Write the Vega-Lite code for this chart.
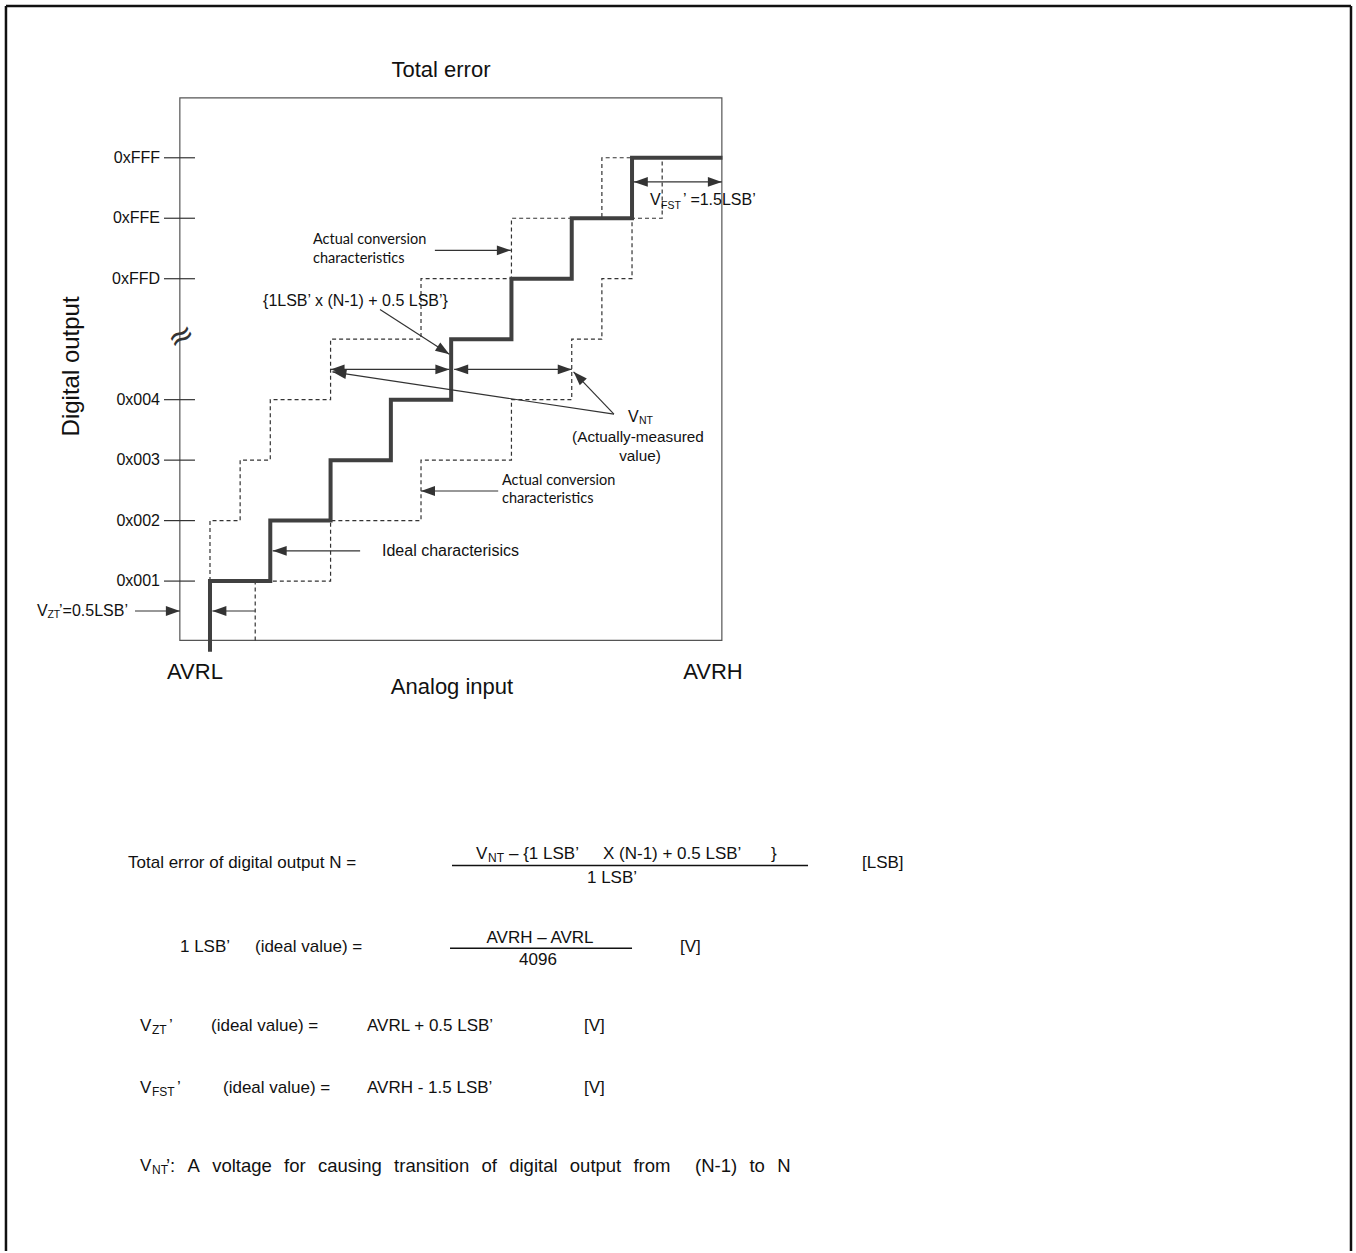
{
  "$schema": "https://vega.github.io/schema/vega-lite/v6.json",
  "width": 1356,
  "height": 1253,
  "autosize": {"type": "fit", "contains": "padding"},
  "padding": 0,
  "background": "white",
  "config": {"view": {"stroke": null}, "text": {"font": "Liberation Sans", "color": "#111"}},
  "encoding": {
    "x": {"field": "x", "type": "quantitative", "scale": {"domain": [-3.483, 19.008], "nice": false, "zero": false}, "axis": null},
    "y": {"field": "y", "type": "quantitative", "scale": {"domain": [-10.078, 10.609], "nice": false, "zero": false}, "axis": null}
  },
  "datasets": {
    "box": [{"x": -0.5, "y": 0.018, "x2": 8.49, "y2": 8.991}],
    "ideal": [
      {"i": 0, "x": 0, "y": -0.17}, {"i": 1, "x": 0, "y": 1}, {"i": 2, "x": 1, "y": 1}, {"i": 3, "x": 1, "y": 2},
      {"i": 4, "x": 2, "y": 2}, {"i": 5, "x": 2, "y": 3}, {"i": 6, "x": 3, "y": 3}, {"i": 7, "x": 3, "y": 4},
      {"i": 8, "x": 4, "y": 4}, {"i": 9, "x": 4, "y": 5}, {"i": 10, "x": 5, "y": 5}, {"i": 11, "x": 5, "y": 6},
      {"i": 12, "x": 6, "y": 6}, {"i": 13, "x": 6, "y": 7}, {"i": 14, "x": 7, "y": 7}, {"i": 15, "x": 7, "y": 8},
      {"i": 16, "x": 8.5, "y": 8}
    ],
    "upper": [
      {"i": 0, "x": 0, "y": 1}, {"i": 1, "x": 0, "y": 2}, {"i": 2, "x": 0.5, "y": 2}, {"i": 3, "x": 0.5, "y": 3},
      {"i": 4, "x": 1, "y": 3}, {"i": 5, "x": 1, "y": 4}, {"i": 6, "x": 2, "y": 4}, {"i": 7, "x": 2, "y": 5},
      {"i": 8, "x": 3.5, "y": 5}, {"i": 9, "x": 3.5, "y": 6}, {"i": 10, "x": 5, "y": 6}, {"i": 11, "x": 5, "y": 7},
      {"i": 12, "x": 6.5, "y": 7}, {"i": 13, "x": 6.5, "y": 8}, {"i": 14, "x": 7, "y": 8}
    ],
    "lower": [
      {"i": 0, "x": 0.75, "y": 0.018}, {"i": 1, "x": 0.75, "y": 1}, {"i": 2, "x": 2, "y": 1}, {"i": 3, "x": 2, "y": 2},
      {"i": 4, "x": 3.5, "y": 2}, {"i": 5, "x": 3.5, "y": 3}, {"i": 6, "x": 5, "y": 3}, {"i": 7, "x": 5, "y": 4},
      {"i": 8, "x": 6, "y": 4}, {"i": 9, "x": 6, "y": 5}, {"i": 10, "x": 6.5, "y": 5}, {"i": 11, "x": 6.5, "y": 6},
      {"i": 12, "x": 7, "y": 6}, {"i": 13, "x": 7, "y": 7}, {"i": 14, "x": 7.5, "y": 7}, {"i": 15, "x": 7.5, "y": 8}
    ],
    "ticks": [
      {"x": -0.763, "x2": -0.249, "y": 1, "y2": 1}, {"x": -0.763, "x2": -0.249, "y": 2, "y2": 2},
      {"x": -0.763, "x2": -0.249, "y": 3, "y2": 3}, {"x": -0.763, "x2": -0.249, "y": 4, "y2": 4},
      {"x": -0.763, "x2": -0.249, "y": 6, "y2": 6}, {"x": -0.763, "x2": -0.249, "y": 7, "y2": 7},
      {"x": -0.763, "x2": -0.249, "y": 8, "y2": 8}
    ],
    "shafts": [
      {"x": 7.03, "y": 7.6, "x2": 8.49, "y2": 7.6},
      {"x": 2.0, "y": 4.5, "x2": 3.97, "y2": 4.5},
      {"x": 4.05, "y": 4.5, "x2": 6.0, "y2": 4.5},
      {"x": 3.73, "y": 6.47, "x2": 4.99, "y2": 6.47},
      {"x": 4.78, "y": 2.49, "x2": 3.5, "y2": 2.49},
      {"x": 2.49, "y": 1.5, "x2": 1.04, "y2": 1.5},
      {"x": -1.244, "y": 0.505, "x2": -0.5, "y2": 0.505},
      {"x": 0.746, "y": 0.505, "x2": 0.04, "y2": 0.505},
      {"x": 2.82, "y": 5.49, "x2": 3.97, "y2": 4.75},
      {"x": 6.70, "y": 3.76, "x2": 6.03, "y2": 4.46},
      {"x": 6.70, "y": 3.76, "x2": 2.03, "y2": 4.46}
    ],
    "heads": [
      {"x": 7.03, "y": 7.6, "dir": 180}, {"x": 8.49, "y": 7.6, "dir": 0},
      {"x": 2.0, "y": 4.5, "dir": 180}, {"x": 3.97, "y": 4.5, "dir": 0},
      {"x": 4.05, "y": 4.5, "dir": 180}, {"x": 6.0, "y": 4.5, "dir": 0},
      {"x": 4.99, "y": 6.47, "dir": 0},
      {"x": 3.5, "y": 2.49, "dir": 180},
      {"x": 1.04, "y": 1.5, "dir": 180},
      {"x": -0.5, "y": 0.505, "dir": 0},
      {"x": 0.04, "y": 0.505, "dir": 180},
      {"x": 3.97, "y": 4.75, "dir": 33},
      {"x": 6.03, "y": 4.46, "dir": 226},
      {"x": 2.03, "y": 4.46, "dir": 189}
    ],
    "bars": [
      {"x": 4.014, "y": -3.705, "x2": 9.919, "y2": -3.705},
      {"x": 3.981, "y": -5.071, "x2": 7.0, "y2": -5.071}
    ],
    "border": [
      {"x": -3.384, "y": -10.078, "x2": -3.384, "y2": 10.51},
      {"x": -3.384, "y": 10.51, "x2": 18.925, "y2": 10.51},
      {"x": 18.925, "y": 10.51, "x2": 18.925, "y2": -10.078}
    ],
    "ylabels": [
      {"x": -0.829, "y": 1, "t": "0x001"}, {"x": -0.829, "y": 2, "t": "0x002"},
      {"x": -0.829, "y": 3, "t": "0x003"}, {"x": -0.829, "y": 4, "t": "0x004"},
      {"x": -0.829, "y": 6, "t": "0xFFD"}, {"x": -0.829, "y": 7, "t": "0xFFE"},
      {"x": -0.829, "y": 8, "t": "0xFFF"}
    ],
    "big": [
      {"x": 3.831, "y": 9.455, "t": "Total error"},
      {"x": -0.249, "y": -0.502, "t": "AVRL"},
      {"x": 8.343, "y": -0.502, "t": "AVRH"},
      {"x": 4.014, "y": -0.75, "t": "Analog input"}
    ],
    "ytitle": [{"x": -2.289, "y": 4.55, "t": "Digital output"}],
    "brk": [{"x": -0.481, "y": 5.047, "t": "≈"}],
    "ann": [
      {"x": 7.298, "y": 7.307, "t": "V"},
      {"x": 7.845, "y": 7.307, "t": "’ =1.5LSB’"},
      {"x": 0.88, "y": 5.624, "t": "{1LSB’ x (N-1) + 0.5 LSB’}"},
      {"x": 6.933, "y": 3.708, "t": "V"},
      {"x": 2.853, "y": 1.496, "t": "Ideal characterisics"},
      {"x": -2.869, "y": 0.505, "t": "V"},
      {"x": -2.504, "y": 0.505, "t": "’=0.5LSB’"}
    ],
    "annc": [
      {"x": 7.099, "y": 3.378, "t": "(Actually-measured"},
      {"x": 7.132, "y": 3.064, "t": "value)"}
    ],
    "annsub": [
      {"x": 7.481, "y": 7.207, "t": "FST"},
      {"x": 7.115, "y": 3.642, "t": "NT"},
      {"x": -2.696, "y": 0.439, "t": "ZT"}
    ],
    "cal": [
      {"x": 1.708, "y": 6.647, "t": "Actual conversion"},
      {"x": 1.708, "y": 6.333, "t": "characteristics"},
      {"x": 4.843, "y": 2.652, "t": "Actual conversion"},
      {"x": 4.843, "y": 2.354, "t": "characteristics"}
    ],
    "form": [
      {"x": -1.36, "y": -3.659, "t": "Total error of digital output N ="},
      {"x": 4.412, "y": -3.507, "t": "V"},
      {"x": 4.959, "y": -3.507, "t": "– {1 LSB’"},
      {"x": 6.518, "y": -3.507, "t": "X (N-1) + 0.5 LSB’"},
      {"x": 9.305, "y": -3.507, "t": "}"},
      {"x": 10.814, "y": -3.659, "t": "[LSB]"},
      {"x": -0.498, "y": -5.054, "t": "1 LSB’"},
      {"x": 0.746, "y": -5.054, "t": "(ideal value) ="},
      {"x": 7.796, "y": -5.054, "t": "[V]"},
      {"x": -1.161, "y": -6.363, "t": "V"},
      {"x": -0.68, "y": -6.363, "t": "’"},
      {"x": 0.017, "y": -6.363, "t": "(ideal value) ="},
      {"x": 2.604, "y": -6.363, "t": "AVRL + 0.5 LSB’"},
      {"x": 6.203, "y": -6.363, "t": "[V]"},
      {"x": -1.161, "y": -7.387, "t": "V"},
      {"x": -0.547, "y": -7.387, "t": "’"},
      {"x": 0.216, "y": -7.387, "t": "(ideal value) ="},
      {"x": 2.604, "y": -7.387, "t": "AVRH - 1.5 LSB’"},
      {"x": 6.203, "y": -7.387, "t": "[V]"},
      {"x": -1.161, "y": -8.675, "t": "V"}
    ],
    "line5": [
      {"x": -0.73, "y": -8.675, "t": "’:"},
      {"x": -0.372, "y": -8.675, "t": "A"},
      {"x": 0.036, "y": -8.675, "t": "voltage"},
      {"x": 1.229, "y": -8.675, "t": "for"},
      {"x": 1.791, "y": -8.675, "t": "causing"},
      {"x": 3.054, "y": -8.675, "t": "transition"},
      {"x": 4.503, "y": -8.675, "t": "of"},
      {"x": 4.963, "y": -8.675, "t": "digital"},
      {"x": 5.968, "y": -8.675, "t": "output"},
      {"x": 7.024, "y": -8.675, "t": "from"},
      {"x": 8.046, "y": -8.675, "t": "(N-1)"},
      {"x": 8.948, "y": -8.675, "t": "to"},
      {"x": 9.408, "y": -8.675, "t": "N"}
    ],
    "formc": [
      {"x": 6.668, "y": -3.903, "t": "1 LSB’"},
      {"x": 5.474, "y": -4.908, "t": "AVRH – AVRL"},
      {"x": 5.44, "y": -5.269, "t": "4096"}
    ],
    "fsub": [
      {"x": 4.611, "y": -3.573, "t": "NT"},
      {"x": -0.962, "y": -6.429, "t": "ZT"},
      {"x": -0.962, "y": -7.453, "t": "FST"},
      {"x": -0.962, "y": -8.741, "t": "NT"}
    ]
  },
  "layer": [
    {
      "data": {"name": "border"},
      "mark": {"type": "rule", "color": "#111", "strokeWidth": 2.5},
      "encoding": {"x2": {"field": "x2"}, "y2": {"field": "y2"}}
    },
    {
      "data": {"name": "box"},
      "mark": {"type": "rect", "fill": "white", "fillOpacity": 0, "stroke": "#555", "strokeWidth": 1.2},
      "encoding": {"x2": {"field": "x2"}, "y2": {"field": "y2"}}
    },
    {
      "data": {"name": "ticks"},
      "mark": {"type": "rule", "color": "#333", "strokeWidth": 1.2},
      "encoding": {"x2": {"field": "x2"}, "y2": {"field": "y2"}}
    },
    {
      "data": {"name": "upper"},
      "mark": {"type": "line", "color": "#333", "strokeWidth": 1.2, "strokeDash": [4, 3]},
      "encoding": {"order": {"field": "i", "type": "quantitative"}}
    },
    {
      "data": {"name": "lower"},
      "mark": {"type": "line", "color": "#333", "strokeWidth": 1.2, "strokeDash": [4, 3]},
      "encoding": {"order": {"field": "i", "type": "quantitative"}}
    },
    {
      "data": {"name": "ideal"},
      "mark": {"type": "line", "color": "#404040", "strokeWidth": 4, "strokeJoin": "miter", "strokeCap": "butt"},
      "encoding": {"order": {"field": "i", "type": "quantitative"}}
    },
    {
      "data": {"name": "shafts"},
      "mark": {"type": "rule", "color": "#333", "strokeWidth": 1.2},
      "encoding": {"x2": {"field": "x2"}, "y2": {"field": "y2"}}
    },
    {
      "data": {"name": "heads"},
      "mark": {"type": "point", "shape": "M0,0L-2,-0.7L-2,0.7Z", "filled": true, "size": 196, "color": "#333", "opacity": 1, "strokeWidth": 0},
      "encoding": {"angle": {"field": "dir", "type": "quantitative", "scale": null}}
    },
    {
      "data": {"name": "bars"},
      "mark": {"type": "rule", "color": "#111", "strokeWidth": 1.5},
      "encoding": {"x2": {"field": "x2"}, "y2": {"field": "y2"}}
    },
    {
      "data": {"name": "ylabels"},
      "mark": {"type": "text", "fontSize": 16, "align": "right", "baseline": "middle"},
      "encoding": {"text": {"field": "t"}}
    },
    {
      "data": {"name": "big"},
      "mark": {"type": "text", "fontSize": 22, "align": "center", "baseline": "middle"},
      "encoding": {"text": {"field": "t"}}
    },
    {
      "data": {"name": "ytitle"},
      "mark": {"type": "text", "fontSize": 24, "align": "center", "baseline": "middle", "angle": 270},
      "encoding": {"text": {"field": "t"}}
    },
    {
      "data": {"name": "brk"},
      "mark": {"type": "text", "font": "DejaVu Sans", "fontSize": 32, "align": "center", "baseline": "middle", "angle": -30, "color": "#333"},
      "encoding": {"text": {"field": "t"}}
    },
    {
      "data": {"name": "ann"},
      "mark": {"type": "text", "fontSize": 16, "align": "left", "baseline": "middle"},
      "encoding": {"text": {"field": "t"}}
    },
    {
      "data": {"name": "annc"},
      "mark": {"type": "text", "fontSize": 15.3, "align": "center", "baseline": "middle"},
      "encoding": {"text": {"field": "t"}}
    },
    {
      "data": {"name": "annsub"},
      "mark": {"type": "text", "fontSize": 10.5, "align": "left", "baseline": "middle"},
      "encoding": {"text": {"field": "t"}}
    },
    {
      "data": {"name": "cal"},
      "mark": {"type": "text", "font": "Lato", "fontSize": 14.5, "align": "left", "baseline": "middle"},
      "encoding": {"text": {"field": "t"}}
    },
    {
      "data": {"name": "form"},
      "mark": {"type": "text", "fontSize": 17, "align": "left", "baseline": "middle"},
      "encoding": {"text": {"field": "t"}}
    },
    {
      "data": {"name": "line5"},
      "mark": {"type": "text", "fontSize": 18.5, "align": "left", "baseline": "middle"},
      "encoding": {"text": {"field": "t"}}
    },
    {
      "data": {"name": "formc"},
      "mark": {"type": "text", "fontSize": 17, "align": "center", "baseline": "middle"},
      "encoding": {"text": {"field": "t"}}
    },
    {
      "data": {"name": "fsub"},
      "mark": {"type": "text", "fontSize": 12, "align": "left", "baseline": "middle"},
      "encoding": {"text": {"field": "t"}}
    }
  ]
}
